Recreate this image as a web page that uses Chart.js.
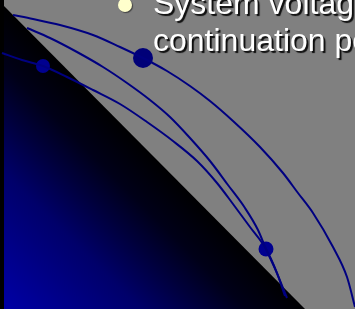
<!DOCTYPE html>
<html>
<head>
<meta charset="utf-8">
<script src="https://cdn.jsdelivr.net/npm/chart.js@4/dist/chart.umd.min.js"></script>
<style>
  html, body { margin: 0; padding: 0; background: #808080; overflow: hidden; }
  #wrap { position: relative; width: 355px; height: 309px; overflow: hidden; }
  canvas { position: absolute; left: 0; top: 0; }
  #bullet { position: absolute; left: 118px; top: -2px; width: 14px; height: 14px; border-radius: 50%;
            background: #ffffcc; box-shadow: 1px 1px 1px rgba(0,0,0,0.5); }
  #text { position: absolute; left: 153px; top: -15px; font-family: "Liberation Sans", Arial, sans-serif;
          font-size: 32px; line-height: 37px; color: #ffffff; white-space: nowrap;
          text-shadow: 2px 2px 1px rgba(0,0,0,0.9); }
</style>
</head>
<body>
<div id="wrap">
  <canvas id="c" width="355" height="309"></canvas>
  <div id="bullet"></div>
  <div id="text">System voltage profiles from<br>continuation power flow</div>
</div>
<script>
// Curves (x to the right, y downward, picture units)
const curveA_x = [13, 33, 60, 93, 120, 143, 167, 190, 210, 233, 260, 283, 298, 313, 333, 347, 355];
const curveA_y = [15, 19, 25, 35, 47, 58, 71, 86, 101, 121, 147, 173, 193, 213, 247, 277, 307];
const curveB_x = [27, 50, 77, 103, 127, 150, 170, 190, 210, 228, 245, 258, 266, 276, 287];
const curveB_y = [28, 38, 52, 67, 83, 100, 117, 138, 161, 185, 208, 230, 249, 271, 298];
const curveC_x = [2, 22, 43, 67, 93, 120, 147, 173, 197, 217, 233, 250, 266, 277, 285];
const curveC_y = [53, 60, 66, 77, 90, 104, 122, 141, 161, 183, 204, 227, 249, 273, 296];
// Marked points (critical / nose points)
const dots_x = [143, 43, 266];
const dots_y = [58, 66, 249];
const dots_r = [10, 7, 7.5];
// Shaded triangle region
const tri_x = [4, 305, 4];
const tri_y = [6, 309, 309];

const pts = (xs, ys) => xs.map((x, i) => ({ x: x, y: ys[i] }));

const backdrop = {
  id: 'backdrop',
  beforeDatasetsDraw(chart) {
    const { ctx, scales: { x, y } } = chart;
    ctx.save();
    ctx.fillStyle = '#808080';
    ctx.fillRect(0, 0, chart.width, chart.height);
    const px = tri_x.map(v => x.getPixelForValue(v));
    const py = tri_y.map(v => y.getPixelForValue(v));
    const g = ctx.createLinearGradient(px[2], py[2], px[2] + 152, py[2] - 152);
    g.addColorStop(0, '#0000a6');
    g.addColorStop(0.45, '#00006a');
    g.addColorStop(0.8, '#000018');
    g.addColorStop(1, '#000000');
    ctx.fillStyle = g;
    ctx.beginPath();
    ctx.moveTo(px[0], py[0]);
    for (let i = 1; i < px.length; i++) ctx.lineTo(px[i], py[i]);
    ctx.closePath();
    ctx.fill();
    ctx.fillStyle = '#000000';
    ctx.fillRect(0, 0, x.getPixelForValue(4), chart.height);
    ctx.restore();
  }
};

const lineStyle = {
  borderColor: '#000080', borderWidth: 2, pointRadius: 0, pointHoverRadius: 0,
  showLine: true, fill: false, cubicInterpolationMode: 'monotone', clip: false
};

new Chart(document.getElementById('c'), {
  type: 'scatter',
  data: {
    datasets: [
      Object.assign({ label: 'A', data: pts(curveA_x, curveA_y) }, lineStyle),
      Object.assign({ label: 'B', data: pts(curveB_x, curveB_y) }, lineStyle),
      Object.assign({ label: 'C', data: pts(curveC_x, curveC_y) }, lineStyle),
      { label: 'points', data: pts(dots_x, dots_y), showLine: false, clip: false,
        pointRadius: dots_r, pointBackgroundColor: ['#000078', '#000090', '#000090'],
        pointBorderWidth: 0, borderColor: 'transparent' }
    ]
  },
  options: {
    responsive: false,
    devicePixelRatio: 1,
    animation: false,
    layout: { padding: 0, autoPadding: false },
    plugins: { legend: { display: false }, tooltip: { enabled: false }, title: { display: false } },
    scales: {
      x: { type: 'linear', min: 0, max: 355, display: false },
      y: { type: 'linear', min: 0, max: 309, reverse: true, display: false }
    }
  },
  plugins: [backdrop]
});
</script>
</body>
</html>
